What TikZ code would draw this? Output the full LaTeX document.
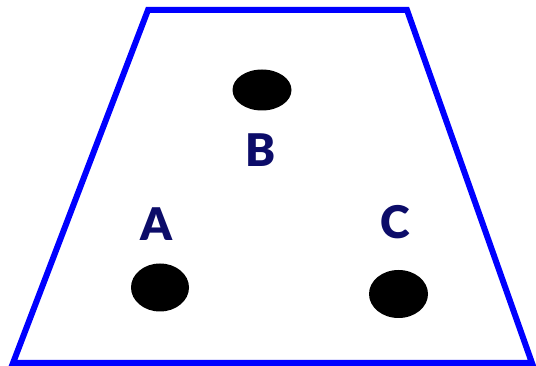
\documentclass[tikz,border=0pt]{standalone}
\usepackage{fontspec}
\setmainfont{Liberation Sans}
\newfontfamily\lblfont{Lato Black}
\definecolor{edgeblue}{RGB}{0,0,255}
\definecolor{labelnavy}{RGB}{12,12,105}
\begin{document}
\begin{tikzpicture}[x=1pt,y=-1pt,
  lbl/.style={text=labelnavy,font=\fontsize{45}{45}\selectfont\lblfont,inner sep=0pt,anchor=center}]
\useasboundingbox (0,0) rectangle (536,366);
\draw[edgeblue,line width=6pt,line join=miter] (148,10) -- (407,10) -- (532,363) -- (13,363) -- cycle;
\fill[black] (262,90) ellipse [x radius=29.5, y radius=20.5];
\fill[black] (160,287.5) ellipse [x radius=29, y radius=24];
\fill[black] (398.5,294) ellipse [x radius=29.5, y radius=24];
\node[lbl] (B) at (261,150.5) {\vphantom{A}B};
\node[lbl] (A) at (156,224.5) {\vphantom{B}A};
\node[lbl] (C) at (395,222.5) {\vphantom{A}C};
\end{tikzpicture}
\end{document}
